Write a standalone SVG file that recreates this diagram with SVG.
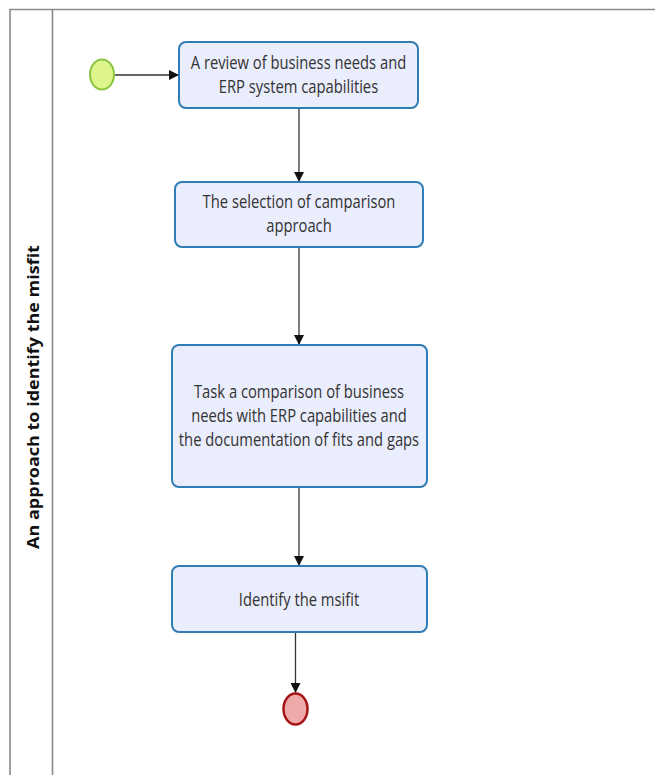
<svg xmlns="http://www.w3.org/2000/svg" width="655" height="775" viewBox="0 0 655 775">
  <style>
    .pool { fill: none; stroke: #8a8a8a; stroke-width: 1.6; }
    .task rect { fill: #eaedfc; stroke: #2f7db4; stroke-width: 2; }
    .task text { font-family: "Open Sans", "Noto Sans", sans-serif; font-size: 18px; fill: #333; text-anchor: middle; }
    .flow { fill: none; stroke: #333; stroke-width: 1.3; }
    .lane-label { font-family: "Open Sans", "Noto Sans", sans-serif; font-size: 18px; font-weight: bold; fill: #111; text-anchor: middle; }
  </style>
  <defs>
    <marker id="arrow" viewBox="0 0 10 10" refX="10" refY="5" markerWidth="10" markerHeight="10" markerUnits="userSpaceOnUse" orient="auto">
      <path d="M0,0 L10,5 L0,10 Z" fill="#111"/>
    </marker>
  </defs>

  <!-- pool and lane -->
  <g id="pool">
    <path class="pool" d="M10,775 L10,9.5 L655,9.5"/>
    <line class="pool" x1="52.5" y1="9.5" x2="52.5" y2="775"/>
    <text class="lane-label" transform="translate(38.5,397) rotate(-90) scale(1,0.92)">An approach to identify the misfit</text>
  </g>

  <!-- connectors -->
  <g id="connectors">
    <line class="flow" x1="115" y1="75" x2="179" y2="75" marker-end="url(#arrow)"/>
    <line class="flow" x1="299" y1="108" x2="299" y2="182" marker-end="url(#arrow)"/>
    <line class="flow" x1="299" y1="247" x2="299" y2="345" marker-end="url(#arrow)"/>
    <line class="flow" x1="299" y1="487" x2="299" y2="566" marker-end="url(#arrow)"/>
    <line class="flow" x1="295.5" y1="632" x2="295.5" y2="693" marker-end="url(#arrow)"/>
  </g>

  <!-- start event -->
  <g id="start">
    <ellipse cx="102" cy="74.5" rx="12" ry="15" fill="#def58c" stroke="#8bc43f" stroke-width="2"/>
  </g>

  <!-- tasks: labels are narrowed horizontally around the box centre -->
  <g id="task1" class="task">
    <rect x="179" y="42" width="239" height="66" rx="7"/>
    <g transform="translate(298.5,0) scale(0.82,1)">
      <text x="0" y="69">A review of business needs and</text>
      <text x="0" y="93">ERP system capabilities</text>
    </g>
  </g>

  <g id="task2" class="task">
    <rect x="175" y="182" width="248" height="65" rx="7"/>
    <g transform="translate(299,0) scale(0.82,1)">
      <text x="0" y="208">The selection of camparison</text>
      <text x="0" y="232">approach</text>
    </g>
  </g>

  <g id="task3" class="task">
    <rect x="172" y="345" width="255" height="142" rx="7"/>
    <g transform="translate(299,0) scale(0.82,1)">
      <text x="0" y="398">Task a comparison of business</text>
      <text x="0" y="422">needs with ERP capabilities and</text>
      <text x="0" y="446">the documentation of fits and gaps</text>
    </g>
  </g>

  <g id="task4" class="task">
    <rect x="172" y="566" width="255" height="66" rx="7"/>
    <g transform="translate(299,0) scale(0.82,1)">
      <text x="0" y="606">Identify the msifit</text>
    </g>
  </g>

  <!-- end event -->
  <g id="end">
    <ellipse cx="295.5" cy="709" rx="12" ry="15.5" fill="#eeaaaa" stroke="#a51515" stroke-width="2.5"/>
  </g>
</svg>
